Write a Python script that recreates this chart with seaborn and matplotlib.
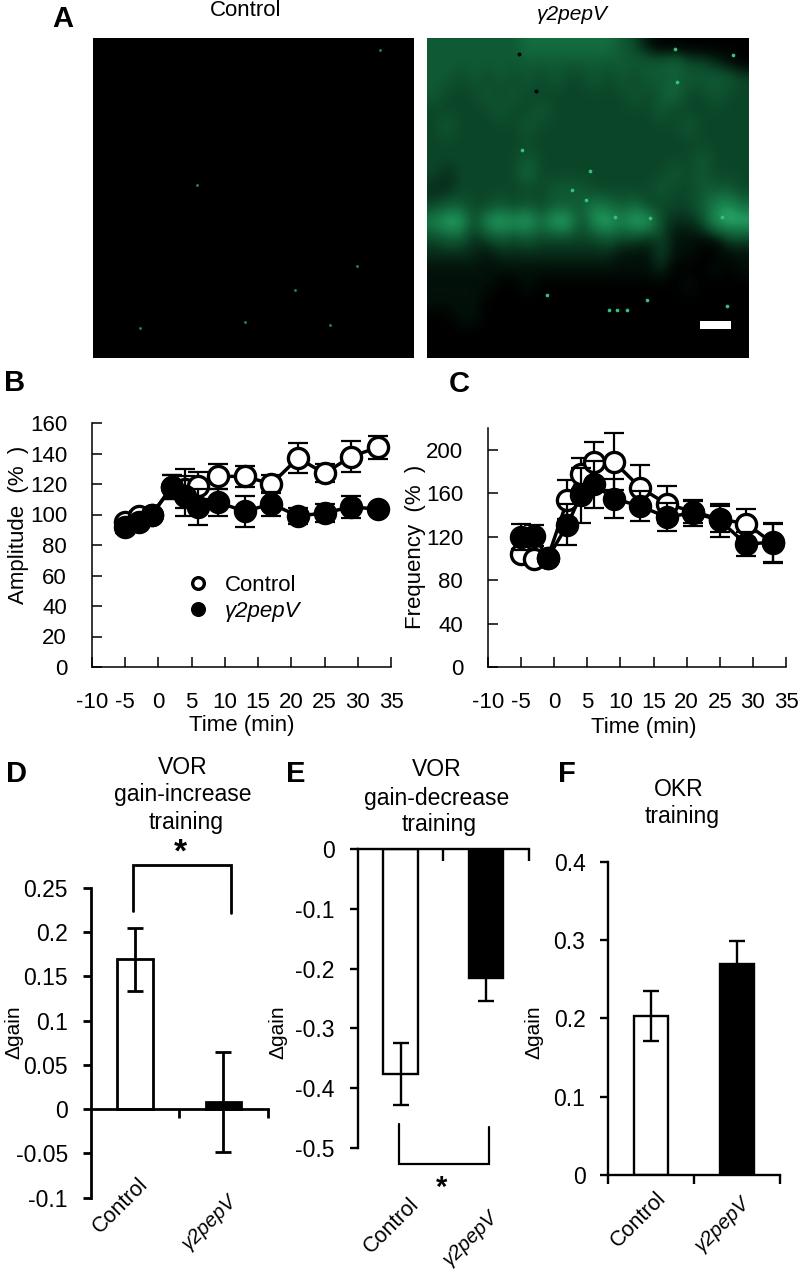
#%%
# =====================================================
# FIGURE: GAMMA2PEPV PANELS A-F
# =====================================================

import numpy as np
import pandas as pd
import matplotlib.pyplot as plt
import seaborn as sns
from matplotlib.colors import LinearSegmentedColormap
from matplotlib.patches import Rectangle

sns.set_theme(style='ticks')
plt.rcParams['font.family'] = ['Liberation Sans', 'DejaVu Sans']
plt.rcParams['axes.unicode_minus'] = False

W, H = 800, 1280

# =====================================================
# DATA
# =====================================================
CONTROL = 'Control'
PEP = 'γ2pepV'
groups = [CONTROL, PEP]

time_min = [-5, -3, -1, 2, 4, 6, 9, 13, 17, 21, 25, 29, 33]

amp_control = [95, 99, 100, 118, 117, 119, 125, 125, 120, 137, 127, 138, 144]
amp_control_err = [3, 3, 0, 8, 13, 9, 8, 7, 6, 10, 6, 10, 7.5]
amp_pep = [92, 95, 100, 118, 112, 105, 108, 102, 107, 99, 101, 105, 103.5]
amp_pep_err = [4, 3, 0, 8, 13, 12, 9, 10, 8, 5, 6, 7, 3]

freq_control = [104, 99, 100, 154, 178, 189, 189, 165, 150, 143, 136, 132, 114]
freq_control_err = [5, 5, 0, 18, 14, 18, 26, 21, 17, 10, 12, 13, 18]
freq_pep = [120, 121, 100, 131, 158, 168, 155, 148, 138, 142, 135, 113, 115]
freq_pep_err = [12, 10, 0, 19, 25, 22, 18, 14, 13, 12, 15, 11, 18]

d_gain = [0.169, 0.008]
d_err = [0.036, 0.056]
e_gain = [-0.376, -0.216]
e_err = [0.052, 0.039]
f_gain = [0.203, 0.269]
f_err = [0.0325, 0.030]

# micrograph brightness by eye, 0 = black, 9 = brightest, 20 rows x 24 columns
image_pep = [
    [4, 4, 4, 4, 4, 4, 4, 5, 5, 5, 5, 5, 5, 5, 4, 3, 1, 0, 0, 0, 0, 0, 0, 0],
    [4, 4, 4, 4, 4, 4, 4, 4, 4, 4, 4, 4, 4, 4, 4, 4, 4, 4, 5, 3, 3, 2, 1, 0],
    [4, 4, 3, 4, 3, 4, 3, 4, 3, 4, 3, 3, 4, 3, 4, 3, 4, 4, 4, 4, 4, 4, 4, 3],
    [4, 3, 3, 3, 4, 3, 4, 3, 3, 3, 3, 3, 3, 3, 3, 4, 3, 4, 5, 3, 3, 4, 3, 3],
    [3, 3, 3, 3, 3, 4, 3, 3, 4, 3, 3, 3, 3, 3, 3, 3, 3, 4, 3, 3, 3, 3, 3, 3],
    [3, 4, 3, 3, 3, 3, 3, 4, 3, 3, 3, 3, 3, 3, 3, 3, 3, 3, 3, 4, 3, 3, 3, 3],
    [3, 3, 3, 3, 3, 3, 3, 3, 3, 3, 3, 3, 3, 3, 3, 3, 3, 3, 3, 3, 3, 3, 3, 3],
    [3, 3, 3, 3, 3, 3, 3, 4, 3, 3, 3, 3, 3, 3, 3, 3, 3, 3, 3, 3, 4, 3, 3, 3],
    [3, 2, 3, 3, 3, 3, 3, 5, 3, 3, 3, 3, 3, 3, 3, 3, 3, 3, 4, 3, 4, 3, 3, 3],
    [2, 2, 3, 3, 3, 3, 3, 3, 3, 4, 4, 4, 3, 3, 3, 3, 3, 4, 3, 3, 4, 4, 4, 3],
    [3, 4, 4, 3, 3, 4, 3, 4, 3, 4, 4, 4, 6, 5, 4, 5, 3, 3, 3, 3, 4, 6, 7, 5],
    [6, 8, 8, 3, 7, 8, 7, 8, 5, 8, 8, 3, 7, 8, 6, 8, 8, 3, 2, 2, 3, 7, 8, 8],
    [3, 4, 4, 2, 3, 4, 3, 4, 3, 3, 3, 3, 3, 4, 3, 3, 2, 3, 1, 1, 1, 1, 3, 3],
    [2, 2, 2, 2, 1, 2, 2, 2, 2, 2, 2, 2, 2, 2, 1, 1, 1, 3, 1, 1, 0, 0, 1, 1],
    [1, 1, 1, 1, 1, 1, 1, 1, 1, 1, 1, 1, 1, 1, 1, 1, 1, 2, 0, 0, 0, 1, 0, 1],
    [1, 1, 1, 1, 1, 0, 0, 1, 0, 0, 0, 0, 0, 0, 0, 0, 0, 0, 0, 1, 0, 0, 0, 0],
    [1, 1, 1, 1, 0, 0, 0, 0, 0, 0, 0, 0, 0, 0, 0, 0, 0, 0, 0, 0, 0, 0, 0, 0],
    [0, 0, 1, 1, 0, 0, 0, 0, 0, 0, 0, 0, 0, 0, 0, 0, 0, 0, 0, 0, 0, 0, 0, 0],
    [0, 0, 0, 0, 0, 0, 0, 0, 0, 0, 0, 0, 0, 0, 0, 0, 0, 0, 0, 0, 0, 0, 0, 0],
    [0, 0, 0, 0, 0, 0, 0, 0, 0, 0, 0, 0, 0, 0, 0, 0, 0, 0, 0, 0, 0, 0, 0, 0],
]
image_control = np.zeros_like(image_pep).tolist()

# bright specks and dark holes, fraction of panel width and height from top left
specks_pep_x = [.509, .494, .452, .297, .778, .773, .954, .685, .566, .592, .623, .375, .934, .696, .587, .918]
specks_pep_y = [.416, .507, .476, .351, .138, .034, .053, .818, .849, .849, .849, .803, .839, .564, .559, .559]
specks_control_x = [.146, .629, .738, .822, .894, .474, .324]
specks_control_y = [.906, .788, .897, .712, .038, .888, .459]
holes_pep_x = [.287, .341]
holes_pep_y = [.050, .166]

# =====================================================
# HELPERS
# =====================================================
fig = plt.figure(figsize=(W / 100, H / 100), dpi=100, facecolor='white')


def axes_px(left, top, right, bottom):
    return fig.add_axes([left / W, 1 - bottom / H, (right - left) / W, (bottom - top) / H])


def text_px(x, y, s, **kw):
    kw.setdefault('ha', 'center')
    kw.setdefault('va', 'center')
    kw.setdefault('color', 'black')
    return fig.text(x / W, 1 - y / H, s, **kw)


def label_px(ax, box, ylabel_xy, xlabel_xy=None):
    left, top, right, bottom = box
    ax.yaxis.set_label_coords((ylabel_xy[0] - left) / (right - left), (bottom - ylabel_xy[1]) / (bottom - top))
    if xlabel_xy is not None:
        ax.xaxis.set_label_coords((xlabel_xy[0] - left) / (right - left), (bottom - xlabel_xy[1]) / (bottom - top))


# =====================================================
# PANEL A
# =====================================================
green_map = LinearSegmentedColormap.from_list(
    'confocal', [(0, '#000000'), (0.12, '#03120a'), (0.35, '#0c4a2b'), (0.7, '#1a8650'), (1, '#3fd08a')]
)

ax_ctrl = axes_px(93, 38, 414, 358)
ax_pep = axes_px(427, 38, 748, 358)
for ax, grid in [(ax_ctrl, image_control), (ax_pep, image_pep)]:
    ax.imshow(np.array(grid, dtype=float), cmap=green_map, vmin=0, vmax=9, aspect='auto', interpolation='bicubic')
    ax.set_axis_off()

ax_ctrl.scatter(specks_control_x, 1 - np.array(specks_control_y), s=4, color='#1f8f55', lw=0, transform=ax_ctrl.transAxes)
ax_pep.scatter(specks_pep_x, 1 - np.array(specks_pep_y), s=7, color='#35c27c', lw=0, transform=ax_pep.transAxes)
ax_pep.scatter(holes_pep_x, 1 - np.array(holes_pep_y), s=8, color='#000000', lw=0, transform=ax_pep.transAxes)
ax_pep.add_patch(Rectangle((0.851, 0.09), 0.097, 0.025, transform=ax_pep.transAxes, color='white', lw=0))

text_px(246, 11, CONTROL, fontsize=16)
text_px(572, 14, PEP, fontsize=15, style='italic')


# =====================================================
# PANELS B AND C
# =====================================================
def time_panel(box, control, control_err, pep, pep_err, ylim, yticks, ylabel, ylabel_xy, xlabel_xy):
    ax = axes_px(*box)
    df = pd.DataFrame({'time': time_min, 'control': control, 'pep': pep})

    ax.errorbar(time_min, control, yerr=control_err, fmt='none', ecolor='black', elinewidth=1.6, capsize=7, capthick=1.6, zorder=2)
    sns.lineplot(ax=ax, data=df, x='time', y='control', color='black', linewidth=2.5, marker='o', markersize=14.5,
                 markerfacecolor='white', markeredgecolor='black', markeredgewidth=2.4, errorbar=None, zorder=3, label=CONTROL)
    ax.errorbar(time_min, pep, yerr=pep_err, fmt='none', ecolor='black', elinewidth=1.6, capsize=7, capthick=1.6, zorder=4)
    sns.lineplot(ax=ax, data=df, x='time', y='pep', color='black', linewidth=2.5, marker='o', markersize=14.5,
                 markerfacecolor='black', markeredgecolor='black', markeredgewidth=2.4, errorbar=None, zorder=5, label=PEP)

    ax.set_xlim(-10, 35)
    ax.set_ylim(*ylim)
    ax.set_xticks(range(-10, 36, 5))
    ax.set_yticks(yticks)
    ax.tick_params(axis='both', direction='in', length=7, width=1.1, labelsize=16, colors='black')
    ax.tick_params(axis='x', pad=18)
    ax.tick_params(axis='y', pad=18)
    sns.despine(ax=ax)
    for side in ['left', 'bottom']:
        ax.spines[side].set_linewidth(1.1)
        ax.spines[side].set_color('black')
    ax.patch.set_alpha(0)
    ax.set_xlabel('Time (min)', fontsize=16, color='black', va='center')
    ax.set_ylabel(ylabel, fontsize=16, color='black', va='center')
    label_px(ax, box, ylabel_xy, xlabel_xy)
    return ax


box_b = (92, 423, 391, 667)
ax_b = time_panel(box_b, amp_control, amp_control_err, amp_pep, amp_pep_err, (0, 160), range(0, 161, 20),
                  'Amplitude  (%  )', (19, 525), (242, 725))
legend = ax_b.legend(loc='upper left', bbox_to_anchor=(0.354, 0.378), frameon=False, fontsize=16, markerscale=0.58,
                     handlelength=0, handletextpad=1.2, labelspacing=0.22, borderpad=0, borderaxespad=0)
legend.get_texts()[1].set_fontstyle('italic')
for t in legend.get_texts():
    t.set_color('black')

box_c = (488, 428, 786, 667)
ax_c = time_panel(box_c, freq_control, freq_control_err, freq_pep, freq_pep_err, (0, 220), range(0, 201, 40),
                  'Frequency  (%  )', (416, 547), (644, 727))
ax_c.get_legend().remove()


# =====================================================
# PANELS D, E AND F
# =====================================================
def bar_panel(box, gain, err, ylim, yticks, yticklabels, xticks, lw, ylabel_x, xtick_len):
    ax = axes_px(*box)
    df = pd.DataFrame({'group': groups, 'gain': gain})
    sns.barplot(ax=ax, data=df, x='group', y='gain', hue='group', palette=['white', 'black'], legend=False,
                width=0.4, edgecolor='black', linewidth=lw, errorbar=None, zorder=2)
    ax.errorbar([0, 1], gain, yerr=err, fmt='none', ecolor='black', elinewidth=lw, capsize=5.8, capthick=lw, zorder=3)

    ax.set_xlim(-0.5, 1.5)
    ax.set_ylim(*ylim)
    ax.set_xticks(xticks, labels=[''] * len(xticks))
    ax.set_yticks(yticks, labels=yticklabels)
    ax.tick_params(axis='y', direction='out', length=6, width=lw, labelsize=16.5, pad=10.5, colors='black')
    ax.tick_params(axis='x', direction='out', length=xtick_len, width=lw, colors='black')
    sns.despine(ax=ax)
    ax.spines['bottom'].set_position(('data', 0))
    for side in ['left', 'bottom']:
        ax.spines[side].set_linewidth(lw)
        ax.spines[side].set_color('black')
    ax.patch.set_alpha(0)
    ax.set_xlabel('')
    ax.set_ylabel('Δgain', fontsize=15, color='black', va='center')
    label_px(ax, box, (ylabel_x, 1032))
    return ax


def bracket_px(points, lw):
    xs = [p[0] / W for p in points]
    ys = [1 - p[1] / H for p in points]
    fig.add_artist(plt.Line2D(xs, ys, color='black', linewidth=lw, solid_joinstyle='miter'))


# D
bar_panel((90.7, 887.7, 267.7, 1197.7), d_gain, d_err, (-0.1, 0.25),
          [-0.1, -0.05, 0, 0.05, 0.1, 0.15, 0.2, 0.25],
          ['-0.1', '-0.05', '0', '0.05', '0.1', '0.15', '0.2', '0.25'],
          [0.5, 1.5], 2.0, 14, 6.5)
text_px(183, 768, 'VOR', fontsize=16.5)
text_px(183, 795, 'gain-increase', fontsize=16.5)
text_px(186, 822, 'training', fontsize=16.5)
bracket_px([(133, 911), (133, 865), (231, 865), (231, 913)], 2.0)
text_px(180, 853, '*', fontsize=24, fontweight='bold')
text_px(120, 1206, CONTROL, fontsize=15.5, rotation=45)
text_px(209, 1222, PEP, fontsize=14.5, rotation=45, style='italic')

# E
bar_panel((357.7, 849, 529, 1148), e_gain, e_err, (-0.5, 0),
          [-0.5, -0.4, -0.3, -0.2, -0.1, 0],
          ['-0.5', '-0.4', '-0.3', '-0.2', '-0.1', '0'],
          [0.5, 1.5], 1.7, 278, 8.5)
text_px(437, 770, 'VOR', fontsize=16.5)
text_px(437, 798, 'gain-decrease', fontsize=16.5)
text_px(439, 825, 'training', fontsize=16.5)
bracket_px([(399.3, 1124), (399.3, 1164), (488.7, 1164), (488.7, 1127)], 1.6)
text_px(442, 1188, '*', fontsize=21, fontweight='bold')
text_px(391, 1226, CONTROL, fontsize=15.5, rotation=45)
text_px(470, 1238, PEP, fontsize=14.5, rotation=45, style='italic')

# F
bar_panel((608.3, 861.7, 780, 1175), f_gain, f_err, (0, 0.4),
          [0, 0.1, 0.2, 0.3, 0.4],
          ['0', '0.1', '0.2', '0.3', '0.4'],
          [-0.5, 0.5, 1.5], 1.7, 534, 6.5)
text_px(679, 789, 'OKR', fontsize=16.5)
text_px(682, 816, 'training', fontsize=16.5)
text_px(638, 1220, CONTROL, fontsize=15.5, rotation=45)
text_px(722, 1224, PEP, fontsize=14.5, rotation=45, style='italic')

# =====================================================
# PANEL LETTERS
# =====================================================
for letter, x, y in [('A', 63, 19), ('B', 15, 383), ('C', 459, 384), ('D', 16, 774), ('E', 296, 774), ('F', 567, 774)]:
    text_px(x, y, letter, fontsize=21, fontweight='bold')

fig.savefig('out.png', dpi=100)
plt.close()
print('saved out.png')
#%%
